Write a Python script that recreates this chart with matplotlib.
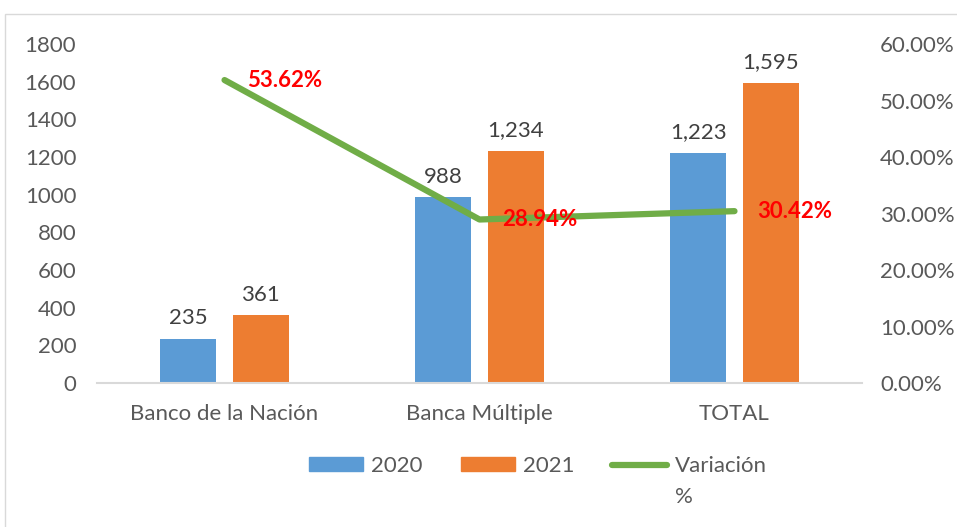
import matplotlib
matplotlib.use("Agg")
import matplotlib.pyplot as plt
import numpy as np
from matplotlib.patches import Rectangle, Patch
from matplotlib.lines import Line2D

categories = ["Banco de la Nación", "Banca Múltiple", "TOTAL"]
values_2020 = [235, 988, 1223]
values_2021 = [361, 1234, 1595]
variacion = [0.5362, 0.2894, 0.3042]

BLUE = "#5b9bd5"
ORANGE = "#ed7d31"
GREEN = "#70ad47"
TEXT = "#595959"
LABEL = "#404040"
FS = 16

plt.rcParams["font.family"] = ["Lato", "DejaVu Sans"]

fig = plt.figure(figsize=(9.57, 5.27), dpi=100)
ax = fig.add_axes([0.1014, 0.2732, 0.7993, 0.6433])
ax2 = ax.twinx()

x = np.arange(len(categories))
w = 0.22
off = 0.142
ax.bar(x - off, values_2020, w, color=BLUE)
ax.bar(x + off, values_2021, w, color=ORANGE)

for xi, v in zip(x - off, values_2020):
    ax.text(xi, v + 55, f"{v:,}", ha="center", va="bottom", fontsize=FS, color=LABEL)
for xi, v in zip(x + off, values_2021):
    ax.text(xi, v + 55, f"{v:,}", ha="center", va="bottom", fontsize=FS, color=LABEL)

ax.set_xlim(-0.5, 2.5)
ax.set_ylim(0, 1800)
ax.set_yticks(range(0, 1801, 200))
ax.set_xticks(x)
ax.set_xticklabels(categories)
ax.tick_params(length=0, labelsize=FS, labelcolor=TEXT)
ax.tick_params(axis="x", pad=15)
ax.tick_params(axis="y", pad=15)
for s in ["top", "right", "left"]:
    ax.spines[s].set_visible(False)
ax.spines["bottom"].set_color("#d9d9d9")
ax.spines["bottom"].set_linewidth(1.5)

ax2.plot(x, variacion, color=GREEN, linewidth=4.5, solid_capstyle="round")
ax2.set_ylim(0, 0.6)
ticks2 = np.arange(0, 0.61, 0.1)
ax2.set_yticks(ticks2)
ax2.set_yticklabels([f"{t*100:.2f}%" for t in ticks2])
ax2.tick_params(length=0, labelsize=FS, labelcolor=TEXT, pad=13)
for s in ["top", "right", "left", "bottom"]:
    ax2.spines[s].set_visible(False)

for xi, v in zip(x, variacion):
    ax2.text(xi + 0.235, v, f"{v*100:.2f}%", ha="center", va="center",
             fontsize=FS, fontweight="bold", color="red")

handles = [Patch(color=BLUE), Patch(color=ORANGE),
           Line2D([0], [0], color=GREEN, linewidth=4.5, solid_capstyle="round")]
leg = fig.legend(handles, ["2020", "2021", "Variación"], ncol=3, loc="center",
                 bbox_to_anchor=(0.562, 0.116), frameon=False, fontsize=FS,
                 handlelength=2.45, handleheight=0.55, columnspacing=1.7,
                 handletextpad=0.36)
for t in leg.get_texts():
    t.set_color(TEXT)

# wrapped second line of the last legend entry
fig.canvas.draw()
bb = leg.get_texts()[2].get_window_extent().transformed(fig.transFigure.inverted())
fig.text(bb.x0, bb.y0 - 0.022, "%", ha="left", va="top", fontsize=FS, color=TEXT)

fig.patches.append(Rectangle((5 / 957, -0.01), 1.0, 1 - 14 / 527 + 0.01,
                             transform=fig.transFigure, fill=False,
                             edgecolor="#d9d9d9", linewidth=1))

fig.savefig("out.png", dpi=100)
